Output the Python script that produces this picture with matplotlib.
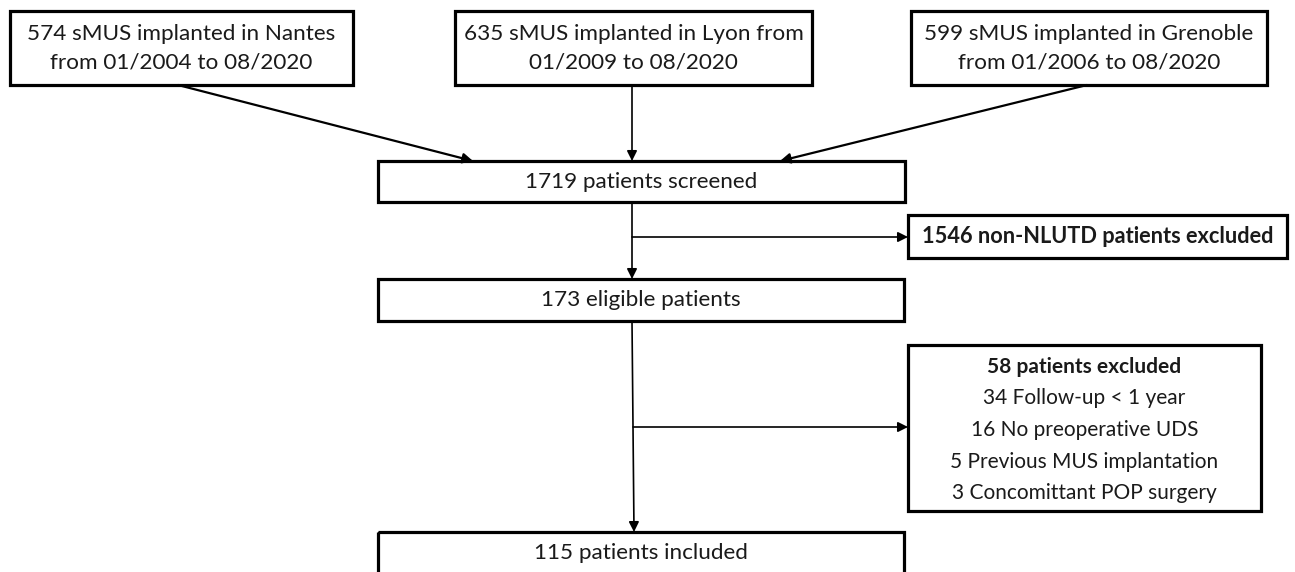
import matplotlib
matplotlib.use("Agg")
import matplotlib.pyplot as plt
from matplotlib.patches import Rectangle, FancyArrowPatch

# ==========================================================
# DATA
# ==========================================================
sites = ["Nantes", "Lyon", "Grenoble"]
implanted = [574, 635, 599]
start_dates = ["01/2004", "01/2009", "01/2006"]
end_date = "08/2020"

screened = 1719
non_nlutd_excluded = 1546
eligible = 173
excluded = 58
reason_counts = [34, 16, 5, 3]
reason_labels = ["Follow-up < 1 year", "No preoperative UDS",
                 "Previous MUS implantation", "Concomittant POP surgery"]
included = 115

# ==========================================================
# LAYOUT (pixels, origin top-left)
# ==========================================================
W, H = 1295, 572
site_boxes = [(10, 11, 353, 85), (455, 11, 812, 85), (911, 11, 1267, 85)]
screened_box = (378, 161, 905, 202)
excl1_box = (908, 215, 1287, 258)
eligible_box = (378, 279, 904, 321)
excl2_box = (908, 345, 1261, 511)
included_box = (378, 532, 904, 576)
main_x = 632

FONT = ["Lato", "DejaVu Sans"]
FS = 16.2
FS_EXCL1 = 15.7
FS_LIST = 15.0
TXT = "#1a1a1a"
BOX_LW = 2.3

fig = plt.figure(figsize=(W / 100, H / 100), dpi=100)
ax = fig.add_axes([0, 0, 1, 1])
ax.set_xlim(0, W)
ax.set_ylim(H, 0)
ax.axis("off")


def draw_box(b):
    x0, y0, x1, y1 = b
    ax.add_patch(Rectangle((x0, y0), x1 - x0, y1 - y0, fill=False,
                           edgecolor="black", lw=BOX_LW))


def center(b):
    return (b[0] + b[2]) / 2, (b[1] + b[3]) / 2


def arrow(p0, p1, lw=1.2):
    ax.add_patch(FancyArrowPatch(p0, p1, arrowstyle="-|>,head_length=0.5,head_width=0.25",
                                 mutation_scale=12, color="black", lw=lw,
                                 shrinkA=0, shrinkB=0))


# site boxes
site_labels = [
    f"{implanted[0]} sMUS implanted in {sites[0]}\nfrom {start_dates[0]} to {end_date}",
    f"{implanted[1]} sMUS implanted in {sites[1]} from\n{start_dates[1]} to {end_date}",
    f"{implanted[2]} sMUS implanted in {sites[2]}\nfrom {start_dates[2]} to {end_date}",
]
for b, lab in zip(site_boxes, site_labels):
    draw_box(b)
    cx, cy = center(b)
    ax.text(cx, cy, lab, ha="center", va="center", fontsize=FS,
            family=FONT, color=TXT, linespacing=1.55)

# main flow boxes
draw_box(screened_box)
ax.text(*center(screened_box), f"{screened} patients screened", ha="center",
        va="center", fontsize=FS, family=FONT, color=TXT)
draw_box(eligible_box)
ax.text(*center(eligible_box), f"{eligible} eligible patients", ha="center",
        va="center", fontsize=FS, family=FONT, color=TXT)
draw_box(included_box)
ax.text(center(included_box)[0], 553, f"{included} patients included", ha="center",
        va="center", fontsize=FS, family=FONT, color=TXT)

# exclusion boxes
draw_box(excl1_box)
ax.text(*center(excl1_box), f"{non_nlutd_excluded} non-NLUTD patients excluded",
        ha="center", va="center", fontsize=FS_EXCL1, family=FONT, weight="bold",
        color=TXT)
draw_box(excl2_box)
cx2 = center(excl2_box)[0]
line_y = [367, 398.5, 430, 461.5, 493]
ax.text(cx2, line_y[0], f"{excluded} patients excluded", ha="center", va="center",
        fontsize=FS_LIST, family=FONT, weight="bold", color=TXT)
for y, n, lab in zip(line_y[1:], reason_counts, reason_labels):
    ax.text(cx2, y, f"{n} {lab}", ha="center", va="center", fontsize=FS_LIST,
            family=FONT, color=TXT)

# arrows from sites
arrow((178, 85), (473, 161), lw=1.6)
arrow((main_x, 85), (main_x, 161))
arrow((1087, 85), (780, 161), lw=1.6)

# screened -> eligible with exclusion branch
arrow((main_x, 202), (main_x, 279))
arrow((main_x, 237), (excl1_box[0], 237))

# eligible -> included with exclusion branch
arrow((main_x, 321), (main_x + 2, 532))
arrow((main_x + 1, 427), (excl2_box[0], 427))

fig.savefig("out.png", dpi=100)
